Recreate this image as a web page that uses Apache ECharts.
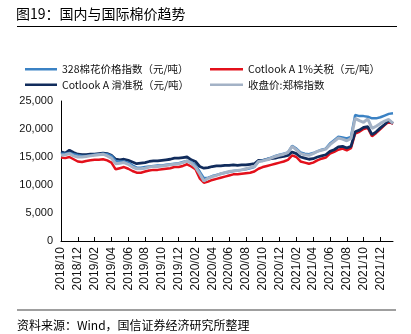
<!DOCTYPE html>
<html><head><meta charset="utf-8">
<script src="https://cdn.jsdelivr.net/npm/echarts@6/dist/echarts.min.js"></script>
<style>html,body{margin:0;padding:0;background:#fff}#c{width:411px;height:334px}</style>
</head><body><div id="c"></div>
<script>
const categories = ['2018-10-01','2018-10-16','2018-11-01','2018-11-16','2018-12-01','2018-12-16',
'2019-01-01','2019-01-16','2019-02-01','2019-02-16','2019-03-01','2019-03-16','2019-04-01','2019-04-16','2019-05-01','2019-05-16','2019-06-01','2019-06-16',
'2019-07-01','2019-07-16','2019-08-01','2019-08-16','2019-09-01','2019-09-16','2019-10-01','2019-10-16','2019-11-01','2019-11-16','2019-12-01','2019-12-16',
'2020-01-01','2020-01-16','2020-02-01','2020-02-16','2020-03-01','2020-03-16','2020-04-01','2020-04-16','2020-05-01','2020-05-16','2020-06-01','2020-06-16',
'2020-07-01','2020-07-16','2020-08-01','2020-08-16','2020-09-01','2020-09-16','2020-10-01','2020-10-16','2020-11-01','2020-11-16','2020-12-01','2020-12-16',
'2021-01-01','2021-01-16','2021-02-01','2021-02-16','2021-03-01','2021-03-16','2021-04-01','2021-04-16','2021-05-01','2021-05-16','2021-06-01','2021-06-16',
'2021-07-01','2021-07-16','2021-08-01','2021-08-16','2021-09-01','2021-09-16','2021-10-01','2021-10-16','2021-11-01','2021-11-16','2021-12-01','2021-12-16',
'2022-01-01','2022-01-16'];

const idx328 = [15600,15600,15700,15500,15300,15200,15200,15300,15400,15500,
15600,15500,15200,14300,14200,14200,14000,13500,13100,13100,
13200,13300,13400,13500,13500,13600,13700,13800,13900,14100,
14300,14100,13500,12400,11200,11300,11600,11800,12000,12200,
12300,12500,12600,12700,12800,13000,13200,14200,14400,14600,
14900,15200,15400,15600,15800,17000,16500,15800,15600,15500,
15700,16000,16300,16500,17400,18000,18600,18500,18300,18600,
22500,22300,22300,22200,21900,21900,22100,22400,22700,22800];

const cotlook1 = [14900,14800,15000,14600,14200,14100,14300,14400,14500,14500,
14600,14400,14000,12800,13000,13200,12900,12500,12200,12200,
12400,12600,12700,12700,12800,12900,13000,13200,13200,13400,
13700,13300,12800,11200,10400,10600,10900,11100,11300,11500,
11700,11900,11900,12000,12100,12200,12400,12900,13200,13400,
13600,13800,14000,14200,14500,15300,15000,14200,14000,13800,
14000,14400,14700,14900,15600,15900,16300,16500,16200,16600,
19200,19500,20000,20200,18700,19300,20000,20700,21300,20900];

const cotlookSlide = [15900,15700,16200,15800,15500,15400,15400,15500,15500,15600,
15700,15600,15300,14600,14500,14600,14400,14100,13800,13900,
14000,14200,14300,14300,14400,14500,14600,14800,14800,14900,
15000,14500,14200,13300,13000,13100,13300,13400,13400,13500,
13500,13600,13500,13600,13600,13700,13800,14400,14400,14600,
14700,14800,15000,15100,15300,15900,15600,15000,14800,14600,
14700,15000,15200,15400,16000,16300,16800,16900,16600,16900,
19500,19800,20300,20400,19000,19500,20200,20800,21500,21000];

const zceIndex = [15300,15400,15600,15200,15000,15000,15100,15200,15300,15400,
15500,15200,14800,13800,13900,14000,13700,13200,12900,12900,
13000,13200,13300,13300,13400,13500,13600,13700,13800,14000,
14300,13900,13200,12000,10700,11200,11500,11700,12000,12200,
12400,12500,12600,12700,12900,13100,13300,14200,14300,14500,
14800,15100,15300,15500,15800,16900,16300,15600,15400,15300,
15600,16000,16200,16400,17200,17800,18400,18200,17900,18300,
21900,21500,21200,21800,20100,20500,21000,21400,21700,21000];

const yTicks = [0,5000,10000,15000,20000,25000];

const names = ['328棉花价格指数（元/吨）','Cotlook A 1%关税（元/吨）','Cotlook A 滑准税（元/吨）','收盘价:郑棉指数'];
const colors = ['#3b82c4','#e3101b','#112c5c','#a3b2c6'];
const FONT = '"Noto Sans CJK SC", sans-serif';

const chart = echarts.init(document.getElementById('c'), null, {renderer:'canvas'});
const legendText = {fontSize:10.5, color:'#111', fontFamily:FONT};
chart.setOption({
  animation:false,
  backgroundColor:'#fff',
  title:{text:'图19：国内与国际棉价趋势', left:16, top:7, padding:0, textStyle:{fontSize:14, fontWeight:'normal', color:'#000', fontFamily:FONT}},
  graphic:[
    {type:'line', shape:{x1:17,y1:26.5,x2:397,y2:26.5}, style:{stroke:'#000', lineWidth:1}},
    {type:'line', shape:{x1:17,y1:310,x2:396,y2:310}, style:{stroke:'#7f7f7f', lineWidth:1.5}},
    {type:'text', left:17, top:319, style:{text:'资料来源：Wind，国信证券经济研究所整理', fontSize:12, fill:'#000', fontFamily:FONT}}
  ],
  legend:[
    {data:[names[0],names[2]], orient:'vertical', left:25, top:64, padding:0, itemWidth:32, itemHeight:2.5, itemGap:5, icon:'rect', textStyle:legendText, selectedMode:false},
    {data:[names[1],names[3]], orient:'vertical', left:210, top:64, padding:0, itemWidth:33, itemHeight:2.5, itemGap:5, icon:'rect', textStyle:legendText, selectedMode:false}
  ],
  grid:{left:61, right:18, top:101, bottom:93, containLabel:false},
  xAxis:{type:'category', data:categories, boundaryGap:false,
    axisLine:{lineStyle:{color:'#000', width:1}},
    axisTick:{inside:true, length:4, interval:3, lineStyle:{color:'#000'}},
    axisLabel:{interval:3, rotate:90, margin:6, fontSize:12, color:'#111', fontFamily:'"Liberation Sans", Arial, sans-serif',
      formatter:v=>v.slice(0,7).replace('-','/')},
    splitLine:{show:false}},
  yAxis:{type:'value', min:yTicks[0], max:yTicks[yTicks.length-1], interval:5000,
    axisLine:{show:true, lineStyle:{color:'#000', width:1}},
    axisTick:{show:false},
    axisLabel:{fontSize:11, color:'#111', margin:8, fontFamily:'"Liberation Sans", Arial, sans-serif'},
    splitLine:{show:false}},
  series:[
    {name:names[1], type:'line', data:cotlook1, showSymbol:false, lineStyle:{color:colors[1], width:2.5}, itemStyle:{color:colors[1]}, z:2},
    {name:names[2], type:'line', data:cotlookSlide, showSymbol:false, lineStyle:{color:colors[2], width:2.8}, itemStyle:{color:colors[2]}, z:3},
    {name:names[0], type:'line', data:idx328, showSymbol:false, lineStyle:{color:colors[0], width:2.5}, itemStyle:{color:colors[0]}, z:4},
    {name:names[3], type:'line', data:zceIndex, showSymbol:false, lineStyle:{color:colors[3], width:3}, itemStyle:{color:colors[3]}, z:5}
  ]
});
</script></body></html>
